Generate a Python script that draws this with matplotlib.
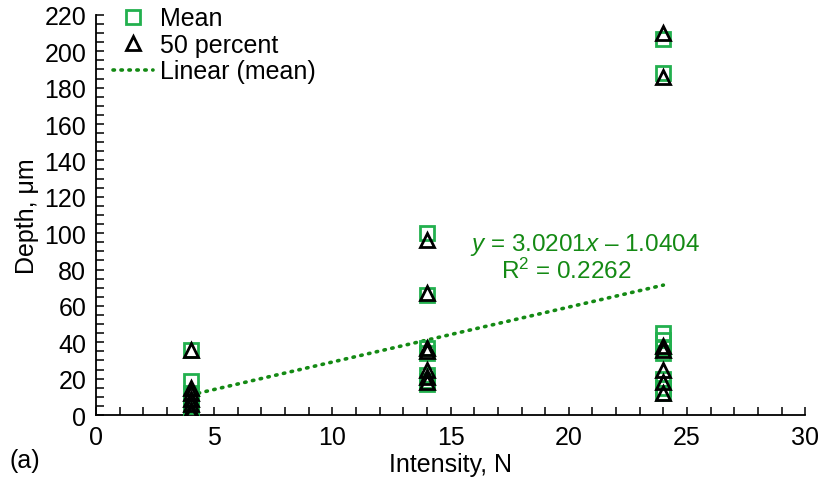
import matplotlib
matplotlib.use("Agg")
from matplotlib import pyplot as plt
from matplotlib.ticker import MultipleLocator

plt.rcParams['font.family'] = ['Liberation Sans', 'DejaVu Sans']
plt.rcParams['mathtext.fontset'] = 'custom'
plt.rcParams['mathtext.rm'] = 'Liberation Sans'
plt.rcParams['mathtext.it'] = 'Liberation Sans:italic'

# Intensidad (N) y profundidades medidas (um)
x_mean = [4, 4, 4, 4, 4, 4, 4,
          14, 14, 14, 14, 14, 14, 14,
          24, 24, 24, 24, 24, 24, 24, 24, 24]
mean_depth = [36, 19, 12, 8, 5, 3, 1,
              100, 66, 37, 34, 22, 19, 17,
              207, 188, 45, 41, 37, 34, 20, 15, 12]

x_p50 = [4, 4, 4, 4, 4, 4, 4,
         14, 14, 14, 14, 14, 14, 14,
         24, 24, 24, 24, 24, 24, 24]
p50_depth = [36, 15, 12, 9, 6, 3, 1,
             96, 67, 37, 35, 25, 21, 18,
             210, 186, 38, 36, 25, 18, 12]

# Ajuste lineal de la media
slope = 3.0201
intercept = -1.0404
r2 = 0.2262
fit_x = [4, 24]

green_sq = '#22b04e'
green_fit = '#148a14'
fs = 18

fig = plt.figure(figsize=(8.2, 4.81), dpi=100)
ax = fig.add_axes([0.117, 0.135, 0.865, 0.832])

ax.plot(x_mean, mean_depth, linestyle='none', marker='s', markersize=10,
        markerfacecolor='none', markeredgecolor=green_sq, markeredgewidth=2,
        label='Mean', zorder=3)
ax.plot(x_p50, p50_depth, linestyle='none', marker='^', markersize=10,
        markerfacecolor='none', markeredgecolor='black', markeredgewidth=2,
        label='50 percent', zorder=4)
fit_y = [slope * v + intercept for v in fit_x]
ax.plot(fit_x, fit_y, linestyle=(0, (0.4, 1.8)), color=green_fit, linewidth=2.6,
        dash_capstyle='round', label='Linear (mean)', zorder=2)

# Ecuacion de la recta y R2
ax.text(20.7, 94, r'$y$ = %.4f$x$ – %.4f' % (slope, -intercept),
        fontsize=17.5, color=green_fit, ha='center', va='center')
ax.text(19.9, 79.5, r'R$^{2}$ = %.4f' % r2,
        fontsize=17.5, color=green_fit, ha='center', va='center')

ax.set_xlim(0, 30)
ax.set_ylim(0, 220)
ax.xaxis.set_major_locator(MultipleLocator(5))
ax.xaxis.set_minor_locator(MultipleLocator(1))
ax.yaxis.set_major_locator(MultipleLocator(20))
ax.yaxis.set_minor_locator(MultipleLocator(5))
ax.tick_params(which='both', direction='in', labelsize=fs, width=1.1,
               length=5.5, top=False, right=False)
ax.tick_params(which='major', pad=7)
for side in ['top', 'right']:
    ax.spines[side].set_visible(False)
for side in ['left', 'bottom']:
    ax.spines[side].set_linewidth(1.3)

ax.set_xlabel('Intensity, N', fontsize=fs, labelpad=2)
ax.set_ylabel('Depth, μm', fontsize=fs, labelpad=4)

ax.legend(loc='upper left', bbox_to_anchor=(0.0, 1.065), frameon=False,
          fontsize=fs, handlelength=1.6, handletextpad=0.25, labelspacing=0.1,
          borderaxespad=0.3)

fig.text(0.012, 0.042, '(a)', fontsize=fs, ha='left', va='center')

fig.savefig('out.png', dpi=100)
